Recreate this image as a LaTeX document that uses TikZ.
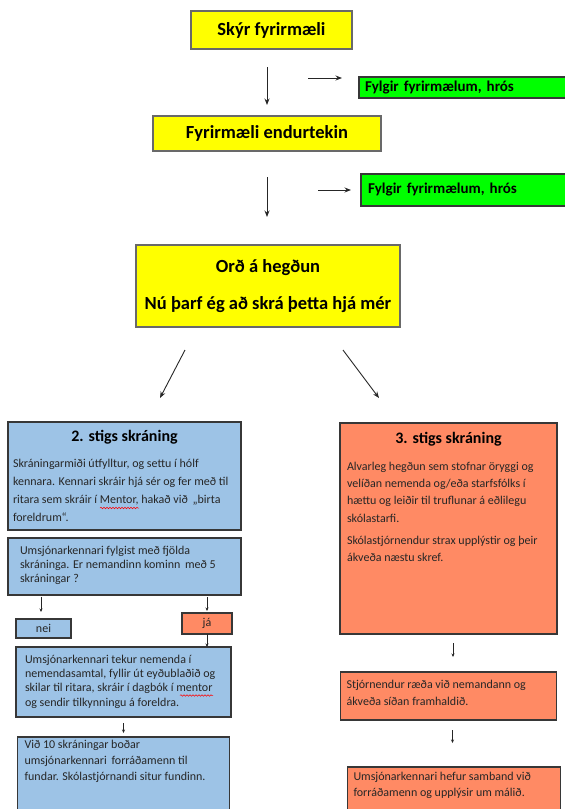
\documentclass[tikz,border=0pt]{standalone}
\usepackage{fontspec}
\setmainfont{Carlito}
\usepackage{tikz}
\usetikzlibrary{positioning,arrows.meta,decorations.pathmorphing}
\definecolor{ylw}{RGB}{255,255,0}
\definecolor{grn}{RGB}{0,255,0}
\definecolor{lblue}{RGB}{157,195,230}
\definecolor{salmon}{RGB}{255,138,100}
\definecolor{frame}{RGB}{55,55,55}

\begin{document}
\begin{tikzpicture}[x=1pt, y=-1pt, outer sep=0pt,
        ybox/.style = {draw=frame!75, fill=ylw, line width=1.2pt, font=\fontsize{18.5}{22}\selectfont\bfseries},
        gbox/.style = {draw=frame, fill=grn, line width=1.2pt, align=left, inner ysep=2pt, font=\fontsize{15}{18}\selectfont\bfseries},
        bbox/.style = {draw=frame, fill=lblue, line width=1.3pt, text=black!85},
        rbox/.style = {draw=frame, fill=salmon, line width=1.3pt, text=black!85},
        arr/.style = {-{Stealth[length=6.5pt, width=5pt]}, line width=0.9pt, black!85},
        sarr/.style = {-{Stealth[length=3.5pt, width=3pt]}, line width=0.7pt, black!85},
        spell/.style = {red, line width=0.5pt, decorate, decoration={snake, amplitude=0.8pt, segment length=3pt}}]
                    \useasboundingbox (0,0) rectangle (565,809);
                    \clip (0,0) rectangle (565,809);
                    \node[ybox, minimum width=161pt, minimum height=38pt] (y0) at (271.5,30) {Skýr fyrirmæli};
                    \node[ybox, minimum width=228pt, minimum height=35pt] (y1) [below=67pt of y0, xshift=-4.5pt] {Fyrirmæli endurtekin};
                    \node[ybox, minimum width=264pt, minimum height=82pt, align=center, font=\fontsize{18.5}{37}\selectfont\bfseries] (y2) [below=94pt of y1, xshift=1pt] {Orð á hegðun\\Nú þarf ég að skrá þetta hjá mér};
                    \node[gbox, minimum height=21pt, text width=204pt, inner xsep=6pt] (g0) [right=7pt of y0, yshift=-57.5pt] {Fylgir fyrirmælum, hrós};
                    \node[gbox, minimum height=32pt, text width=202pt, inner xsep=7pt] (g1) [below=76pt of g0, xshift=2pt] {Fylgir fyrirmælum, hrós};
                    \node[bbox, inner xsep=5pt, inner ysep=8pt] (b0) [below=95pt of y2, xshift=-143.5pt] {\parbox[t][92pt][t]{223pt}{{\centering\color{black}\fontsize{16}{20}\selectfont\bfseries 2. stigs skráning\par}\vspace{8pt}{\raggedright\fontsize{12}{18}\selectfont Skráningarmiði útfylltur, og settu í hólf\\kennara. Kennari skráir hjá sér og fer með til\\ritara sem skráir í Mentor, hakað við \,„birta\\foreldrum“.\par}}};
                    \node[bbox, inner xsep=5pt, inner ysep=8pt] (b1) [below=8pt of b0] {\parbox[t][41pt][t]{223pt}{\raggedright\leftskip=7pt\fontsize{12}{14}\selectfont Umsjónarkennari fylgist með fjölda\\skráninga. Er nemandinn kominn \,með 5\\skráningar ?\par}};
                    \node[bbox, minimum width=55pt, minimum height=19pt, inner sep=0pt, font=\fontsize{12}{14}\selectfont] (nei) [below right=24pt and 8pt of b1.south west] {nei};
                    \node[rbox, minimum width=50pt, minimum height=21pt, inner sep=0pt, font=\fontsize{12}{14}\selectfont] (ja) [below left=18pt and 9pt of b1.south east] {já};
                    \node[bbox, inner xsep=9pt, inner ysep=8pt] (b2) [below right=52pt and 8pt of b1.south west] {\parbox[t][54pt][t]{197pt}{\raggedright\fontsize{12}{14.3}\selectfont Umsjónarkennari tekur nemenda í\\nemendasamtal, fyllir út eyðublaðið og\\skilar til ritara, skráir í dagbók í mentor\\og sendir tilkynningu á foreldra.\par}};
                    \node[bbox, inner xsep=7pt, inner ysep=3pt] (b3) [below=20pt of b2] {\parbox[t][94pt][t]{198pt}{\raggedright\fontsize{12}{16}\selectfont Við 10 skráningar boðar\\umsjónarkennari \,forráðamenn til\\fundar. Skólastjórnandi situr fundinn.\par}};
                    \node[rbox, inner xsep=7pt, inner ysep=9pt] (r0) [below=96pt of y2, xshift=180.5pt] {\parbox[t][193pt][t]{203pt}{{\centering\color{black}\fontsize{16}{20}\selectfont\bfseries 3. stigs skráning\par}\vspace{10pt}{\raggedright\fontsize{12}{17.2}\selectfont Alvarleg hegðun sem stofnar öryggi og\\velíðan nemenda og/eða starfsfólks í\\hættu og leiðir til truflunar á eðlilegu\\skólastarfi.\par\vspace{5pt}Skólastjórnendur strax upplýstir og þeir\\ákveða næstu skref.\par}}};
                    \node[rbox, inner xsep=6pt, inner ysep=8pt] (r1) [below=38pt of r0] {\parbox[t][32pt][t]{204pt}{\raggedright\fontsize{12}{16.7}\selectfont Stjórnendur ræða við nemandann og\\ákveða síðan framhaldið.\par}};
                    \node[rbox, inner xsep=6pt, inner ysep=5.5pt] (r2) [below=47pt of r1, xshift=5.5pt] {\parbox[t][79pt][t]{201pt}{\raggedright\fontsize{12}{15.5}\selectfont Umsjónarkennari hefur samband við\\forráðamenn og upplýsir um málið.\par}};
                    \coordinate (h0) at (308,78);
                    \coordinate (h1) at (318,190);
                    \coordinate (d0) at (185,350);
                    \coordinate (d1) at (160,398);
                    \coordinate (d2) at (343,350);
                    \coordinate (d3) at (379,398);
                    \coordinate (m0) at (100,508);
                    \coordinate (m1) at (139,508);
                    \coordinate (m2) at (180,695.5);
                    \coordinate (m3) at (213,695.5);
                    \draw[arr, shorten <=18pt, shorten >=11pt] (y0.south -| y1) -- (y1.north);
                    \draw[arr, shorten <=26pt, shorten >=28pt] (y1.south) -- (y1.south |- y2.north);
                    \draw[arr, shorten >=17pt] (h0) -- (h0 -| g0.west);
                    \draw[arr, shorten >=10pt] (h1) -- (g1.west);
                    \draw[arr] (d0) -- (d1);
                    \draw[arr] (d2) -- (d3);
                    \draw[sarr, shorten <=2pt, shorten >=7pt] ([xshift=-2.5pt]nei.north |- b1.south) -- ([xshift=-2.5pt]nei.north);
                    \draw[sarr, shorten <=2pt, shorten >=2pt] (ja.north |- b1.south) -- (ja.north);
                    \draw[sarr] (ja.south) -- (ja.south |- b2.north);
                    \draw[sarr, shorten <=6pt, shorten >=4pt] (b2.south) -- (b2.south |- b3.north);
                    \draw[sarr, shorten <=9pt, shorten >=15pt] ([xshift=4.5pt]r0.south) -- ([xshift=4.5pt]r0.south |- r1.north);
                    \draw[sarr, shorten <=10pt, shorten >=24pt] ([xshift=4pt]r1.south) -- ([xshift=4pt]r1.south |- r2.north);
                    \draw[spell] (m0) -- (m1);
                    \draw[spell] (m2) -- (m3);
                \end{tikzpicture}
\end{document}
